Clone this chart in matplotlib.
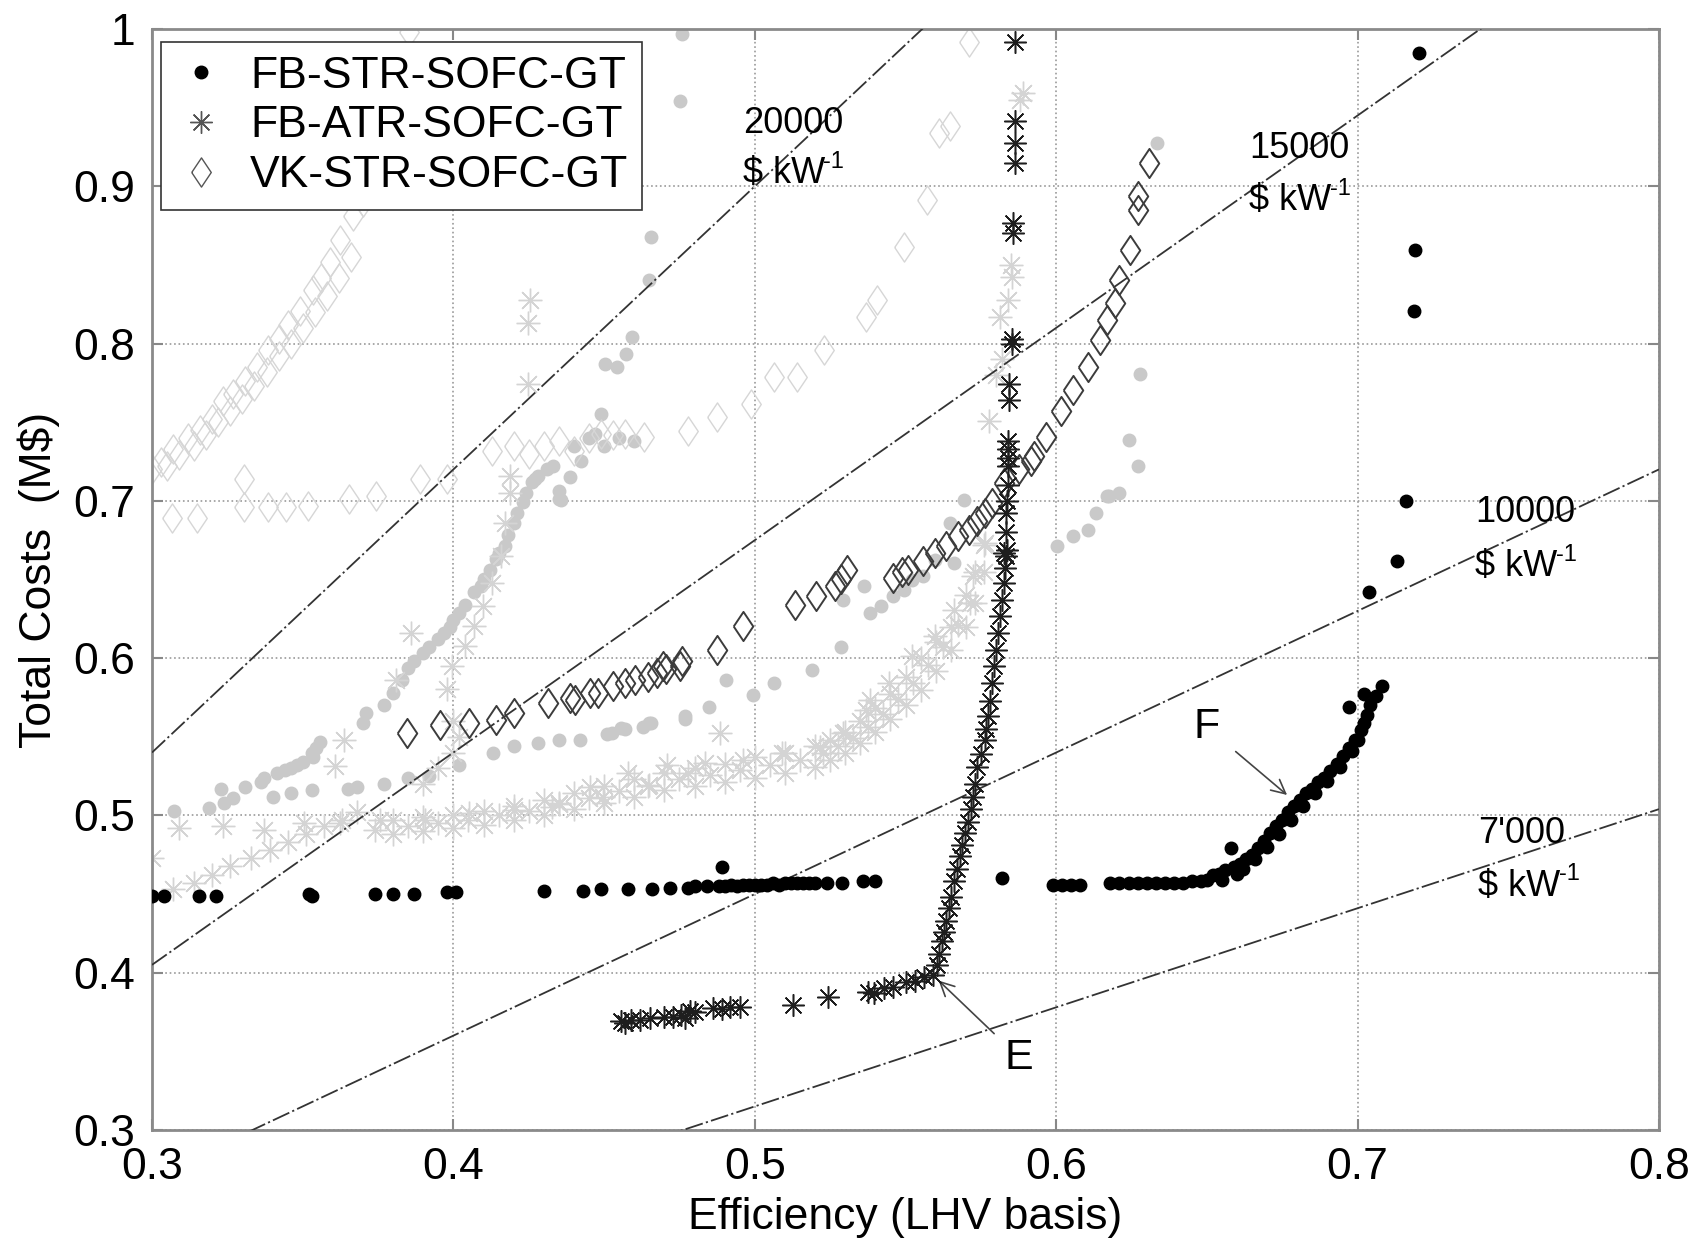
import numpy as np
import matplotlib
matplotlib.use("Agg")
import matplotlib.pyplot as plt
from matplotlib.lines import Line2D

plt.rcParams['font.family'] = ['Liberation Sans', 'DejaVu Sans']

# -----------------------------
# Data
# -----------------------------

# FB-STR-SOFC-GT, highlighted (black dots)
str_x = [0.300, 0.304, 0.3156, 0.3213, 0.352, 0.353, 0.374, 0.380, 0.387, 0.398, 0.401, 0.430, 0.443,
         0.449, 0.458, 0.466, 0.472, 0.478, 0.480, 0.484, 0.489, 0.488, 0.490, 0.492, 0.494, 0.496,
         0.498, 0.500, 0.502, 0.504, 0.506, 0.508, 0.510, 0.512, 0.514, 0.516, 0.518, 0.520, 0.524,
         0.529, 0.536, 0.540, 0.582, 0.599, 0.602, 0.605, 0.608, 0.618, 0.621, 0.624, 0.627, 0.630,
         0.633, 0.636, 0.639, 0.642, 0.645, 0.648, 0.650, 0.652, 0.654, 0.655, 0.656, 0.658, 0.659,
         0.660, 0.661, 0.663, 0.665, 0.667, 0.669, 0.671, 0.673, 0.675, 0.677, 0.679, 0.681, 0.683,
         0.685, 0.687, 0.689, 0.691, 0.693, 0.695, 0.697, 0.699, 0.701, 0.702, 0.697, 0.703, 0.704,
         0.702, 0.706, 0.708, 0.7037, 0.713, 0.716, 0.7187, 0.7191, 0.7203,
         0.662, 0.666, 0.670, 0.674, 0.678, 0.682, 0.686, 0.690, 0.694, 0.698, 0.700]
str_y = [0.449, 0.449, 0.449, 0.449, 0.450, 0.449, 0.450, 0.450, 0.450, 0.451, 0.451, 0.452, 0.452,
         0.453, 0.453, 0.453, 0.454, 0.454, 0.455, 0.455, 0.467, 0.455, 0.455, 0.456, 0.455, 0.456,
         0.456, 0.456, 0.456, 0.456, 0.457, 0.456, 0.457, 0.457, 0.457, 0.457, 0.457, 0.457, 0.457,
         0.457, 0.458, 0.458, 0.460, 0.456, 0.456, 0.456, 0.456, 0.457, 0.457, 0.457, 0.457, 0.457,
         0.457, 0.457, 0.457, 0.457, 0.458, 0.458, 0.459, 0.462, 0.463, 0.459, 0.465, 0.479, 0.467,
         0.463, 0.469, 0.472, 0.475, 0.479, 0.484, 0.489, 0.493, 0.497, 0.502, 0.506, 0.510, 0.514,
         0.517, 0.521, 0.524, 0.528, 0.533, 0.538, 0.543, 0.548, 0.554, 0.559, 0.569, 0.564, 0.570,
         0.577, 0.576, 0.582, 0.642, 0.662, 0.700, 0.8205, 0.8597, 0.9847,
         0.466, 0.472, 0.480, 0.488, 0.497, 0.506, 0.514, 0.522, 0.531, 0.541, 0.548]

# FB-ATR-SOFC-GT, highlighted (black asterisks)
atr_x = [0.4556, 0.457, 0.459, 0.462, 0.4651, 0.470, 0.473, 0.4756, 0.477, 0.4785, 0.480, 0.4861,
         0.489, 0.4918, 0.495, 0.5128, 0.5242, 0.5375, 0.5394, 0.5429, 0.546, 0.550, 0.553, 0.556,
         0.559, 0.5605, 0.5612, 0.562, 0.5627, 0.5635, 0.5645, 0.5652, 0.5662, 0.567, 0.568, 0.5688,
         0.5698, 0.5707, 0.5716, 0.5725, 0.573, 0.5737, 0.575, 0.5763, 0.5768, 0.5775, 0.578, 0.5788,
         0.5795, 0.5801, 0.5808, 0.5814, 0.582, 0.5826, 0.583, 0.5833, 0.5828, 0.5838, 0.5833, 0.5833,
         0.5836, 0.5839, 0.5839, 0.5841, 0.5839, 0.584, 0.5845, 0.5845, 0.5852, 0.5852, 0.5858,
         0.5858, 0.5864, 0.5864, 0.5864, 0.5864]
atr_y = [0.369, 0.368, 0.370, 0.370, 0.3712, 0.372, 0.372, 0.3733, 0.371, 0.3754, 0.375, 0.3775,
         0.377, 0.3785, 0.378, 0.3796, 0.3848, 0.388, 0.387, 0.390, 0.391, 0.3943, 0.395, 0.397,
         0.3985, 0.405, 0.412, 0.420, 0.426, 0.433, 0.441, 0.448, 0.458, 0.466, 0.474, 0.481,
         0.489, 0.496, 0.504, 0.512, 0.520, 0.531, 0.539, 0.548, 0.555, 0.563, 0.573, 0.584,
         0.595, 0.605, 0.616, 0.627, 0.637, 0.648, 0.657, 0.665, 0.667, 0.669, 0.680, 0.692,
         0.700, 0.710, 0.722, 0.727, 0.733, 0.738, 0.764, 0.7745, 0.800, 0.803, 0.870,
         0.8766, 0.9149, 0.9277, 0.9415, 0.9915]

# VK-STR-SOFC-GT, highlighted (dark diamonds)
vk_x = [0.3846, 0.3957, 0.4053, 0.4142, 0.4202, 0.4313, 0.4387, 0.4402, 0.4454, 0.4479, 0.4528,
        0.4568, 0.4602, 0.4644, 0.4677, 0.4695, 0.4706, 0.4751, 0.4758, 0.4873, 0.4962, 0.5133,
        0.5203, 0.5267, 0.5285, 0.5305, 0.5458, 0.549, 0.5509, 0.5559, 0.5598, 0.5636, 0.5674,
        0.5712, 0.5737, 0.5763, 0.5788, 0.5826, 0.5877, 0.5915, 0.5928, 0.5966, 0.6017, 0.6055,
        0.6106, 0.6144, 0.617, 0.6195, 0.6208, 0.6246, 0.6271, 0.6271, 0.6309]
vk_y = [0.5524, 0.5577, 0.5588, 0.5609, 0.5652, 0.5715, 0.5747, 0.5735, 0.5779, 0.5777, 0.5822,
        0.5841, 0.5864, 0.5883, 0.5906, 0.5947, 0.5928, 0.5949, 0.5979, 0.6053, 0.6202, 0.634,
        0.6393, 0.6456, 0.650, 0.6563, 0.651, 0.655, 0.6563, 0.6616, 0.6669, 0.6711, 0.6775,
        0.6817, 0.687, 0.6924, 0.6987, 0.7115, 0.720, 0.7255, 0.7285, 0.7404, 0.7574, 0.7702,
        0.7851, 0.8021, 0.8149, 0.8255, 0.8404, 0.8596, 0.8851, 0.8936, 0.9149]

# FB-STR-SOFC-GT, other runs (light grey dots)
str_bg_x = [0.3074, 0.319, 0.324, 0.327, 0.323, 0.331, 0.337, 0.3415, 0.346, 0.350, 0.353, 0.3556,
            0.340, 0.346, 0.353, 0.365, 0.368, 0.377, 0.385, 0.392, 0.370, 0.371, 0.377, 0.385,
            0.390, 0.395, 0.399, 0.402, 0.407, 0.410, 0.414, 0.417, 0.420, 0.423, 0.426, 0.428,
            0.431, 0.433, 0.435, 0.402, 0.413, 0.420, 0.428, 0.435, 0.442, 0.451, 0.457, 0.465,
            0.477, 0.4358, 0.4526, 0.4555, 0.463, 0.4657, 0.477, 0.4847, 0.4905, 0.4994, 0.5064,
            0.519, 0.5286, 0.5292, 0.5362, 0.5381, 0.542, 0.5458, 0.5496, 0.5521, 0.5559, 0.5597,
            0.5661, 0.5693, 0.5648, 0.6004, 0.6055, 0.6106, 0.6131, 0.617, 0.6208, 0.6271, 0.6335,
            0.6278, 0.624, 0.6176, 0.4758, 0.4752, 0.4654, 0.465, 0.4593, 0.4574, 0.4504, 0.4543,
            0.4491, 0.4469, 0.4424, 0.4387, 0.435, 0.440, 0.445, 0.450, 0.455, 0.460,
            0.380, 0.383, 0.387, 0.392, 0.397, 0.400, 0.404, 0.409, 0.412, 0.415, 0.418, 0.421,
            0.424, 0.427, 0.336, 0.344, 0.348, 0.3535, 0.3545]
str_bg_y = [0.5025, 0.505, 0.508, 0.511, 0.517, 0.518, 0.524, 0.527, 0.530, 0.534, 0.540, 0.547,
            0.512, 0.514, 0.516, 0.517, 0.518, 0.520, 0.524, 0.525, 0.559, 0.565, 0.570, 0.594,
            0.603, 0.612, 0.620, 0.629, 0.642, 0.650, 0.663, 0.671, 0.686, 0.699, 0.712, 0.716,
            0.720, 0.722, 0.701, 0.532, 0.540, 0.544, 0.546, 0.548, 0.548, 0.552, 0.555, 0.559,
            0.561, 0.7008, 0.5522, 0.5554, 0.5565, 0.5586, 0.563, 0.5692, 0.5862, 0.5766, 0.584,
            0.5926, 0.6074, 0.637, 0.6456, 0.6287, 0.633, 0.6393, 0.6435, 0.6499, 0.652, 0.6626,
            0.6605, 0.7008, 0.686, 0.6711, 0.6775, 0.6817, 0.6924, 0.703, 0.7051, 0.7221, 0.9278,
            0.7807, 0.739, 0.7034, 0.9968, 0.9543, 0.868, 0.8404, 0.8043, 0.7936, 0.7872, 0.785,
            0.7553, 0.7426, 0.7255, 0.715, 0.7064, 0.735, 0.740, 0.735, 0.740, 0.738,
            0.578, 0.586, 0.598, 0.607, 0.616, 0.624, 0.634, 0.646, 0.656, 0.667, 0.678, 0.692,
            0.705, 0.714, 0.521, 0.529, 0.532, 0.537, 0.543]

# FB-ATR-SOFC-GT, other runs (light grey asterisks)
atr_bg_x = [0.300, 0.3089, 0.3237, 0.3371, 0.3504, 0.3623, 0.3757, 0.3905, 0.4053, 0.4202, 0.4326,
            0.4350, 0.4453, 0.4498, 0.458, 0.4647, 0.4708, 0.478, 0.4835, 0.4962, 0.5089, 0.5216,
            0.5292, 0.5369, 0.5445, 0.5521, 0.5598, 0.5661, 0.5725, 0.5763,
            0.380, 0.380, 0.390, 0.390, 0.400, 0.400, 0.410, 0.410, 0.420, 0.420, 0.430, 0.430,
            0.440, 0.440, 0.450, 0.450, 0.460, 0.460, 0.470, 0.470, 0.480, 0.480, 0.490, 0.490,
            0.500, 0.500, 0.510, 0.510, 0.520, 0.520, 0.525, 0.525, 0.530, 0.530, 0.535, 0.535,
            0.540, 0.540, 0.545, 0.545, 0.550, 0.550, 0.555, 0.555, 0.560, 0.560, 0.565, 0.565,
            0.570, 0.570, 0.573, 0.573, 0.576, 0.576,
            0.385, 0.395, 0.405, 0.415, 0.425, 0.435, 0.445, 0.455, 0.465, 0.475, 0.485, 0.495,
            0.505, 0.515, 0.5225, 0.5275, 0.5325, 0.5375, 0.5425, 0.5475, 0.5525, 0.5575, 0.5625,
            0.5675, 0.5715,
            0.307, 0.314, 0.320, 0.326, 0.333, 0.339, 0.345, 0.351, 0.357, 0.363, 0.368, 0.374,
            0.3608, 0.3638, 0.3809, 0.386, 0.3979, 0.3994, 0.4039, 0.4068, 0.4098, 0.4128, 0.4157,
            0.4172, 0.4187, 0.4187, 0.4246, 0.4254, 0.4246, 0.390, 0.395, 0.400, 0.402, 0.400,
            0.4886, 0.5381, 0.589, 0.5852, 0.5839, 0.5814, 0.5776, 0.582, 0.580, 0.585, 0.588]
atr_bg_y = [0.473, 0.4919, 0.493, 0.4909, 0.4951, 0.4951, 0.4972, 0.4972, 0.5015, 0.5036, 0.5055,
            0.5078, 0.5183, 0.512, 0.5267, 0.5184, 0.532, 0.5268, 0.5331, 0.5352, 0.5395, 0.5437,
            0.5522, 0.5671, 0.5841, 0.6011, 0.6138, 0.6308, 0.652, 0.6733,
            0.488, 0.497, 0.490, 0.499, 0.492, 0.500, 0.494, 0.503, 0.497, 0.506, 0.500, 0.510,
            0.504, 0.514, 0.508, 0.519, 0.512, 0.523, 0.516, 0.527, 0.519, 0.530, 0.521, 0.533,
            0.524, 0.537, 0.527, 0.540, 0.531, 0.544, 0.535, 0.548, 0.540, 0.553, 0.546, 0.560,
            0.553, 0.568, 0.561, 0.577, 0.570, 0.588, 0.580, 0.600, 0.592, 0.610, 0.605, 0.620,
            0.620, 0.640, 0.635, 0.655, 0.655, 0.672,
            0.4935, 0.4955, 0.497, 0.500, 0.503, 0.507, 0.511, 0.5155, 0.5195, 0.523, 0.526, 0.529,
            0.532, 0.5355, 0.5395, 0.544, 0.5495, 0.5565, 0.5645, 0.574, 0.584, 0.5955, 0.607,
            0.621, 0.635,
            0.453, 0.457, 0.462, 0.468, 0.473, 0.478, 0.483, 0.488, 0.493, 0.497, 0.502, 0.491,
            0.5312, 0.5482, 0.5864, 0.616, 0.5801, 0.5949, 0.6077, 0.6204, 0.6331, 0.648, 0.665,
            0.6862, 0.7053, 0.7159, 0.7745, 0.8277, 0.8128, 0.520, 0.530, 0.540, 0.550, 0.560,
            0.5522, 0.5735, 0.9596, 0.8426, 0.8277, 0.817, 0.751, 0.790, 0.780, 0.850, 0.955]

# VK-STR-SOFC-GT, other runs (light grey diamonds)
vk_bg_x = [0.300, 0.303, 0.307, 0.312, 0.316, 0.320, 0.3237, 0.327, 0.331, 0.335, 0.3386, 0.342,
           0.345, 0.349, 0.3534, 0.356, 0.359, 0.3623, 0.3668, 0.370, 0.305, 0.309, 0.314, 0.318,
           0.322, 0.326, 0.330, 0.334, 0.338, 0.342, 0.346, 0.350, 0.354, 0.358, 0.362, 0.366,
           0.3853, 0.3067, 0.3148, 0.3304, 0.3304, 0.3386, 0.3445, 0.3519, 0.3653, 0.3742, 0.389,
           0.3979, 0.4128, 0.420, 0.425, 0.430, 0.435, 0.440, 0.445, 0.449, 0.453, 0.457, 0.4631,
           0.4778, 0.4873, 0.4987, 0.5064, 0.514, 0.5229, 0.5369, 0.5407, 0.5496, 0.5572, 0.561,
           0.5648, 0.5712]
vk_bg_y = [0.720, 0.725, 0.733, 0.740, 0.745, 0.752, 0.7638, 0.768, 0.776, 0.785, 0.7957, 0.803,
           0.812, 0.821, 0.834, 0.842, 0.852, 0.866, 0.8809, 0.890, 0.722, 0.729, 0.735, 0.742,
           0.750, 0.757, 0.765, 0.773, 0.782, 0.792, 0.800, 0.810, 0.820, 0.830, 0.842, 0.855,
           0.998, 0.6894, 0.6894, 0.7138, 0.6958, 0.6958, 0.6958, 0.6968, 0.701, 0.7032, 0.7138,
           0.7138, 0.7319, 0.735, 0.730, 0.735, 0.738, 0.732, 0.740, 0.7426, 0.742, 0.7426, 0.7404,
           0.7447, 0.7532, 0.7617, 0.7787, 0.7787, 0.7957, 0.817, 0.8277, 0.8617, 0.8915, 0.934,
           0.9383, 0.9915]

# Iso specific-cost lines ($ per kW), total cost = level * fuel input * efficiency
cost_levels = [20000, 15000, 10000, 7000]
cost_labels = ["20000", "15000", "10000", "7'000"]
fuel_input_kw = 90
label_pos = [(0.496, 0.934, 0.902), (0.664, 0.918, 0.885),
             (0.739, 0.6865, 0.652), (0.740, 0.4825, 0.449)]

# -----------------------------
# Plotting
# -----------------------------
fig = plt.figure(figsize=(17, 12.45), dpi=100)
ax = fig.add_axes([152 / 1700, 1 - 1130 / 1245, 1507 / 1700, 1101 / 1245])

diamond = [(-0.67, 0), (0, 1), (0.67, 0), (0, -1), (-0.67, 0)]
asterisk = (8, 2, 0)

# background runs in light grey
ax.plot(str_bg_x, str_bg_y, ls='none', marker='o', ms=9, color='#c9c9c9', mec='#c9c9c9', zorder=2)
ax.plot(atr_bg_x, atr_bg_y, ls='none', marker=asterisk, ms=17, mew=1.0, mec='#d4d4d4', zorder=2)
ax.plot(vk_bg_x, vk_bg_y, ls='none', marker=diamond, ms=21, mew=1.0, mfc='none', mec='#d6d6d6', zorder=2)

# iso-cost lines
xl = np.array([0.3, 0.8])
for lev in cost_levels:
    k = lev * fuel_input_kw / 1e6
    ax.plot(xl, k * xl, color='#333333', lw=1.3, dashes=(10, 1.8, 1.2, 1.8), zorder=3)

# highlighted runs
ax.plot(vk_x, vk_y, ls='none', marker=diamond, ms=21, mew=1.4, mfc='none', mec='#3c3c3c', zorder=4)
ax.plot(atr_x, atr_y, ls='none', marker=asterisk, ms=16, mew=1.1, mec='#1e1e1e', zorder=5)
ax.plot(str_x, str_y, ls='none', marker='o', ms=9, color='black', zorder=5)

# cost line labels
for txt, (lx, y1, y2) in zip(cost_labels, label_pos):
    ax.text(lx, y1, txt, fontsize=26, va='baseline', ha='left', zorder=6)
    ax.text(lx, y2, '$ kW', fontsize=26, va='baseline', ha='left', zorder=6)
    ax.annotate('-1', xy=(lx, y2), xytext=(58, 11), textcoords='offset points',
                fontsize=17, va='baseline', ha='left', zorder=6)

# point annotations
ax.annotate('F', xy=(0.6766, 0.513), xytext=(0.6457, 0.549), fontsize=31, va='baseline',
            arrowprops=dict(arrowstyle='->', color='#444444', lw=1.2, shrinkA=12, shrinkB=0,
                            mutation_scale=25))
ax.annotate('E', xy=(0.561, 0.395), xytext=(0.583, 0.339), fontsize=31, va='baseline',
            arrowprops=dict(arrowstyle='->', color='#444444', lw=1.2, shrinkA=8, shrinkB=0,
                            mutation_scale=25))

ax.set_xlim(0.3, 0.8)
ax.set_ylim(0.3, 1.0)
ax.set_xticks([0.3, 0.4, 0.5, 0.6, 0.7, 0.8])
ax.set_xticklabels(['0.3', '0.4', '0.5', '0.6', '0.7', '0.8'])
ax.set_yticks([0.3, 0.4, 0.5, 0.6, 0.7, 0.8, 0.9, 1.0])
ax.set_yticklabels(['0.3', '0.4', '0.5', '0.6', '0.7', '0.8', '0.9', '1'])
ax.grid(True, ls=':', color='#9a9a9a', lw=1.2)
ax.tick_params(direction='in', length=8, width=1.5, color='#888888', labelsize=32,
               top=True, right=True, pad=12)
for sp in ax.spines.values():
    sp.set_color('#8a8a8a')
    sp.set_linewidth(2)

ax.set_xlabel('Efficiency (LHV basis)', fontsize=32, labelpad=7)
ax.set_ylabel('Total Costs  (M$)', fontsize=32, labelpad=10)

handles = [
    Line2D([], [], ls='none', marker='o', ms=9, color='black'),
    Line2D([], [], ls='none', marker=asterisk, ms=16, mew=1.0, mec='#555555'),
    Line2D([], [], ls='none', marker=diamond, ms=21, mew=1.0, mfc='none', mec='#555555'),
]
leg = ax.legend(handles, ['FB-STR-SOFC-GT', 'FB-ATR-SOFC-GT', 'VK-STR-SOFC-GT'],
                loc='upper left', bbox_to_anchor=(0.006, 0.988), borderaxespad=0,
                fontsize=32, fancybox=False, framealpha=1, edgecolor='#333333',
                handlelength=1.2, handletextpad=0.5, borderpad=0.3, labelspacing=0.2)
leg.get_frame().set_linewidth(1.2)
leg.set_zorder(10)

fig.savefig('out.png', dpi=100)
